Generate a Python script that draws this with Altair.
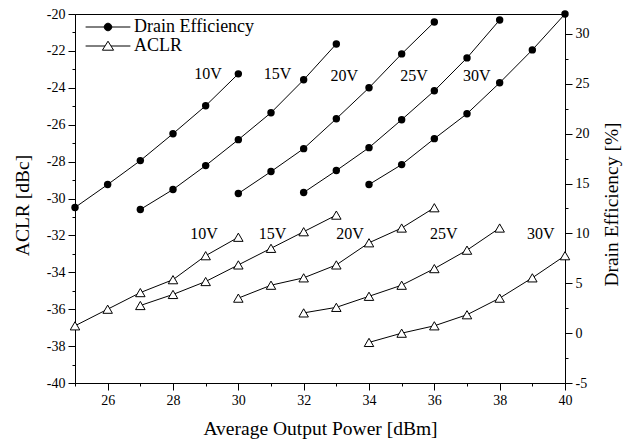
import altair as alt
import pandas as pd

# ---------------- data ----------------
voltages = ["10V", "15V", "20V", "25V", "30V"]

power_10 = [25, 26, 27, 28, 29, 30]
power_15 = [27, 28, 29, 30, 31, 32, 33]
power_20 = [30, 31, 32, 33, 34, 35, 36]
power_25 = [32, 33, 34, 35, 36, 37, 38]
power_30 = [34, 35, 36, 37, 38, 39, 40]

# Drain efficiency [%] (right axis)
eff_10 = [12.6, 14.9, 17.3, 20.0, 22.8, 26.0]
eff_15 = [12.4, 14.4, 16.8, 19.4, 22.1, 25.4, 29.0]
eff_20 = [14.0, 16.2, 18.5, 21.5, 24.6, 28.0, 31.2]
eff_25 = [14.1, 16.3, 18.6, 21.4, 24.3, 27.6, 31.4]
eff_30 = [14.9, 16.9, 19.5, 22.0, 25.1, 28.4, 32.0]

# ACLR [dBc] (left axis)
aclr_10 = [-36.9, -36.0, -35.1, -34.4, -33.1, -32.1]
aclr_15 = [-35.8, -35.2, -34.5, -33.6, -32.7, -31.8, -30.9]
aclr_20 = [-35.4, -34.7, -34.3, -33.6, -32.4, -31.6, -30.5]
aclr_25 = [-36.2, -35.9, -35.3, -34.7, -33.8, -32.8, -31.6]
aclr_30 = [-37.8, -37.3, -36.9, -36.3, -35.4, -34.3, -33.1]

# voltage annotations (data units, left-axis y)
eff_label_x = [29.07, 31.20, 33.24, 35.38, 37.30]
eff_label_y = [-23.25, -23.25, -23.35, -23.35, -23.35]
aclr_label_x = [28.95, 31.05, 33.42, 36.29, 39.26]
aclr_label_y = [-31.9, -31.9, -31.9, -31.9, -31.9]

legend_labels = ["Drain Efficiency", "ACLR"]

x_ticks = [25, 26, 27, 28, 29, 30, 31, 32, 33, 34, 35, 36, 37, 38, 39, 40]
left_ticks = [-40, -39, -38, -37, -36, -35, -34, -33, -32, -31, -30,
              -29, -28, -27, -26, -25, -24, -23, -22, -21, -20]
right_ticks = [-5, -2.5, 0, 2.5, 5, 7.5, 10, 12.5, 15, 17.5, 20,
               22.5, 25, 27.5, 30]

# ---------------- tables ----------------
powers = [power_10, power_15, power_20, power_25, power_30]
effs = [eff_10, eff_15, eff_20, eff_25, eff_30]
aclrs = [aclr_10, aclr_15, aclr_20, aclr_25, aclr_30]

eff_rows, aclr_rows = [], []
for v, p, e, a in zip(voltages, powers, effs, aclrs):
    for pi, ei in zip(p, e):
        eff_rows.append({"power": pi, "eff": ei, "voltage": v})
    for pi, ai in zip(p, a):
        aclr_rows.append({"power": pi, "aclr": ai, "voltage": v})
eff_df = pd.DataFrame(eff_rows)
aclr_df = pd.DataFrame(aclr_rows)

label_df = pd.DataFrame({
    "x": eff_label_x + aclr_label_x,
    "y": eff_label_y + aclr_label_y,
    "text": voltages + voltages,
})
legend_df = pd.DataFrame({"series": legend_labels})

FONT = "Liberation Serif"
MINOR_DASH = [3, 30]


def tick_dash(test):
    return {"condition": {"test": test, "value": [30, 0]}, "value": MINOR_DASH}


x_axis = alt.Axis(
    title="Average Output Power [dBm]",
    values=x_ticks,
    labelExpr="datum.value % 2 === 0 ? '' + datum.value : ''",
    tickSize=7, tickDash=tick_dash("datum.value % 2 === 0"),
    labelFlush=False, labelOverlap=False, grid=False, labelPadding=3,
    titleY=45, titleBaseline="middle",
)
x_enc = alt.X("power:Q", scale=alt.Scale(domain=[25, 40], nice=False, zero=False), axis=x_axis)

left_axis = alt.Axis(
    title="ACLR [dBc]", orient="left", values=left_ticks,
    labelExpr="datum.value % 2 === 0 ? '' + datum.value : ''",
    tickSize=7, tickDash=tick_dash("datum.value % 2 === 0"),
    labelOverlap=False, grid=False, labelPadding=3,
    titleAngle=270, titleX=-53, titleY=191, titleBaseline="middle", titleAlign="center",
)
right_axis = alt.Axis(
    title="Drain Efficiency [%]", orient="right", values=right_ticks,
    labelExpr="datum.value % 5 === 0 ? '' + datum.value : ''",
    tickSize=7, tickDash=tick_dash("datum.value % 5 === 0"),
    labelOverlap=False, grid=False, labelPadding=3,
    titleAngle=270, titleX=46, titleY=190, titleBaseline="middle", titleAlign="center",
)
left_scale = alt.Scale(domain=[-40, -20], nice=False, zero=False)
right_scale = alt.Scale(domain=[-5, 32], nice=False, zero=False)

# ---------------- left (ACLR) group ----------------
aclr_line = alt.Chart(aclr_df).mark_line(color="black", strokeWidth=1).encode(
    x=x_enc, y=alt.Y("aclr:Q", scale=left_scale, axis=left_axis), detail="voltage:N")
aclr_pts = alt.Chart(aclr_df).mark_point(
    shape="triangle-up", size=90, filled=True, fill="white", stroke="black",
    strokeWidth=1, opacity=1).encode(
    x=x_enc, y=alt.Y("aclr:Q", scale=left_scale, axis=left_axis))
labels = alt.Chart(label_df).mark_text(font=FONT, fontSize=16, color="black",
                                       align="center", baseline="middle").encode(
    x=alt.X("x:Q", scale=alt.Scale(domain=[25, 40], nice=False, zero=False), axis=x_axis),
    y=alt.Y("y:Q", scale=left_scale, axis=left_axis), text="text:N")

eff_path = "M-5.6,0L5.6,0M0.95,0A0.95,0.95,0,1,1,-0.95,0A0.95,0.95,0,1,1,0.95,0Z"
aclr_path = "M-5.6,0L-0.75,0M0.75,0L5.6,0M0,-1.2L1.4,1.05L-1.4,1.05Z"
leg = alt.Legend(title=None, symbolStrokeColor="black", symbolStrokeWidth=1)
legend_layer = alt.Chart(legend_df).mark_point(
    filled=True, strokeWidth=1, opacity=1).encode(
    shape=alt.Shape("series:N", scale=alt.Scale(domain=legend_labels, range=[eff_path, aclr_path]),
                    legend=leg),
    fill=alt.Fill("series:N", scale=alt.Scale(domain=legend_labels, range=["black", "white"]),
                  legend=leg),
    stroke=alt.Stroke("series:N", scale=alt.Scale(domain=legend_labels, range=["black", "black"]),
                      legend=leg),
).transform_filter("false")

left = alt.layer(aclr_line, aclr_pts, labels, legend_layer)

# ---------------- right (efficiency) group ----------------
eff_line = alt.Chart(eff_df).mark_line(color="black", strokeWidth=1).encode(
    x=x_enc, y=alt.Y("eff:Q", scale=right_scale, axis=right_axis), detail="voltage:N")
eff_pts = alt.Chart(eff_df).mark_point(
    shape="circle", size=55, filled=True, color="black", opacity=1).encode(
    x=x_enc, y=alt.Y("eff:Q", scale=right_scale, axis=right_axis))
right = alt.layer(eff_line, eff_pts)

chart = alt.layer(left, right).resolve_scale(y="independent").properties(
    width=490, height=369,
    autosize=alt.AutoSizeParams(type="none"),
    padding={"left": 67, "top": 6, "right": 58, "bottom": 60},
).configure(font=FONT).configure_view(
    stroke="black", strokeWidth=1
).configure_axis(
    labelFont=FONT, labelFontSize=14, labelColor="black",
    titleFont=FONT, titleFontSize=19.5, titleFontWeight="normal", titleColor="black",
    domainColor="black", tickColor="black", domainWidth=1, tickWidth=1,
).configure_legend(
    orient="none", legendX=24, legendY=4, padding=0, labelOffset=17, rowPadding=1,
    symbolSize=64, labelFont=FONT, labelFontSize=18, labelColor="black",
    symbolStrokeColor="black", symbolStrokeWidth=1,
)

chart.save("out.html", embed_options={"renderer": "svg", "actions": False})
